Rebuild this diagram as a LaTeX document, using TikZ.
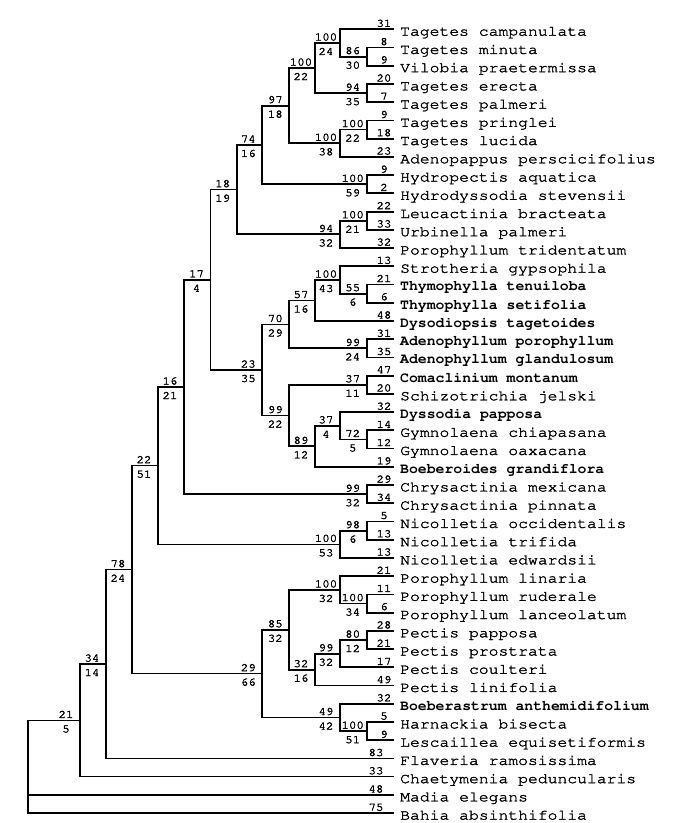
\documentclass[tikz,border=0pt]{standalone}
\usepackage[T1]{fontenc}
\usepackage{graphicx}
\newcommand\heavy[1]{\special{pdf:literal direct 2 Tr #1 w}}
\newcommand\unheavy{\special{pdf:literal direct 0 Tr}}
\newcommand\nums[1]{{\fontencoding{T1}\fontfamily{pcr}\fontseries{m}\fontshape{n}\fontsize{11.5}{11.5}\selectfont\heavy{0.3}\scalebox{1.08}[1]{#1}\unheavy}}
\newcommand\taxn[1]{{\fontencoding{T1}\fontfamily{pcr}\fontseries{m}\fontshape{n}\fontsize{14.5}{14.5}\selectfont\heavy{0.25}\scalebox{1.13}[1]{#1}\unheavy}}
\newcommand\taxb[1]{{\fontencoding{T1}\fontfamily{pcr}\fontseries{b}\fontshape{n}\fontsize{14.5}{14.5}\selectfont\scalebox{1.02}[1]{#1}}}
\tikzset{
  br/.style={line width=1.8pt, line cap=rect},
  brthin/.style={line width=1.5pt, line cap=rect},
  lbl/.style={inner sep=0pt, anchor=base},
  taxon/.style={inner sep=0pt, anchor=base west},
}
% leaf: name, y, number, text
\newcommand\leafn[4]{%
  \coordinate (#1) at (393,#2);
  \node[lbl] (#1n) at ([xshift=-9pt,yshift=2.5pt]#1) {\nums{#3}};
  \node[taxon] (#1t) at ([xshift=7pt,yshift=-6.4pt]#1) {\taxn{#4}};}
\newcommand\leafb[4]{%
  \coordinate (#1) at (393,#2);
  \node[lbl] (#1n) at ([xshift=-9pt,yshift=2.5pt]#1) {\nums{#3}};
  \node[taxon] (#1t) at ([xshift=7pt,yshift=-6.4pt]#1) {\taxb{#4}};}
\newcommand\leafo[4]{%
  \coordinate (#1) at (393,#2);
  \node[lbl] (#1n) at ([xshift=-17pt,yshift=2.5pt]#1) {\nums{#3}};
  \node[taxon] (#1t) at ([xshift=7pt,yshift=-6.4pt]#1) {\taxn{#4}};}
% internal: name, x, y, top, bottom
\newcommand\inode[5]{%
  \coordinate (#1) at (#2,#3);
  \node[lbl] (#1t) at ([xshift=-14pt,yshift=2.5pt]#1) {\nums{#4}};
  \node[lbl] (#1b) at ([xshift=-14pt,yshift=-12pt]#1) {\nums{#5}};}
\begin{document}
\begin{tikzpicture}[x=1pt,y=-1pt]
\useasboundingbox (0,0) rectangle (681,823);
% leaves
\leafn{l1}{29.3}{31}{Tagetes campanulata}
\leafn{l2}{47.53}{8}{Tagetes minuta}
\leafn{l3}{65.76}{9}{Vilobia praetermissa}
\leafn{l4}{83.99}{20}{Tagetes erecta}
\leafn{l5}{102.22}{7}{Tagetes palmeri}
\leafn{l6}{120.45}{9}{Tagetes pringlei}
\leafn{l7}{138.68}{18}{Tagetes lucida}
\leafn{l8}{156.91}{23}{Adenopappus perscicifolius}
\leafn{l9}{175.14}{9}{Hydropectis aquatica}
\leafn{l10}{193.37}{2}{Hydrodyssodia stevensii}
\leafn{l11}{211.6}{22}{Leucactinia bracteata}
\leafn{l12}{229.83}{33}{Urbinella palmeri}
\leafn{l13}{248.06}{32}{Porophyllum tridentatum}
\leafn{l14}{266.29}{13}{Strotheria gypsophila}
\leafb{l15}{284.52}{21}{Thymophylla tenuiloba}
\leafb{l16}{302.75}{6}{Thymophylla setifolia}
\leafb{l17}{320.98}{48}{Dysodiopsis tagetoides}
\leafb{l18}{339.21}{31}{Adenophyllum porophyllum}
\leafb{l19}{357.44}{35}{Adenophyllum glandulosum}
\leafb{l20}{375.67}{47}{Comaclinium montanum}
\leafn{l21}{393.9}{20}{Schizotrichia jelski}
\leafb{l22}{412.13}{32}{Dyssodia papposa}
\leafn{l23}{430.36}{14}{Gymnolaena chiapasana}
\leafn{l24}{448.59}{12}{Gymnolaena oaxacana}
\leafb{l25}{466.82}{19}{Boeberoides grandiflora}
\leafn{l26}{485.05}{29}{Chrysactinia mexicana}
\leafn{l27}{503.28}{34}{Chrysactinia pinnata}
\leafn{l28}{521.51}{5}{Nicolletia occidentalis}
\leafn{l29}{539.74}{13}{Nicolletia trifida}
\leafn{l30}{557.97}{13}{Nicolletia edwardsii}
\leafn{l31}{576.2}{21}{Porophyllum linaria}
\leafn{l32}{594.43}{11}{Porophyllum ruderale}
\leafn{l33}{612.66}{6}{Porophyllum lanceolatum}
\leafn{l34}{630.89}{28}{Pectis papposa}
\leafn{l35}{649.12}{21}{Pectis prostrata}
\leafn{l36}{667.35}{17}{Pectis coulteri}
\leafn{l37}{685.58}{49}{Pectis linifolia}
\leafb{l38}{703.81}{32}{Boeberastrum anthemidifolium}
\leafn{l39}{722.04}{5}{Harnackia bisecta}
\leafn{l40}{740.27}{9}{Lescaillea equisetiformis}
\leafo{l41}{758.5}{83}{Flaveria ramosissima}
\leafo{l42}{776.73}{33}{Chaetymenia peduncularis}
\leafo{l43}{794.96}{48}{Madia elegans}
\leafo{l44}{813.19}{75}{Bahia absinthifolia}
% internal nodes
\inode{n86}{366.7}{56.65}{86}{30}
\inode{n100a}{340}{42.98}{100}{24}
\inode{n94a}{366.7}{93.1}{94}{35}
\inode{n100b}{315}{68.04}{100}{22}
\inode{n100c}{366.7}{129.57}{100}{22}
\inode{n100d}{340}{143.24}{100}{38}
\inode{n97}{289.3}{105.64}{97}{18}
\inode{n100e}{366.7}{184.26}{100}{59}
\inode{n74}{262.3}{144.95}{74}{16}
\inode{n100f}{366.7}{220.72}{100}{21}
\inode{n94b}{340}{234.39}{94}{32}
\inode{n18}{236.7}{189.67}{18}{19}
\inode{n55}{366.7}{293.64}{55}{6}
\inode{n100g}{340}{279.97}{100}{43}
\inode{n57}{315}{300.48}{57}{16}
\inode{n99a}{366.7}{348.33}{99}{24}
\inode{n70}{289.3}{324.4}{70}{29}
\inode{n37a}{366.7}{384.79}{37}{11}
\inode{n72}{366.7}{439.48}{72}{5}
\inode{n37b}{340}{425.8}{37}{4}
\inode{n89}{315}{446.31}{89}{12}
\inode{n99b}{289.3}{415.55}{99}{22}
\inode{n23}{262.3}{369.98}{23}{35}
\inode{n17}{210.5}{279.82}{17}{4}
\inode{n99c}{366.7}{494.17}{99}{32}
\inode{n16}{184}{387.0}{16}{21}
\inode{n98}{366.7}{530.63}{98}{6}
\inode{n100h}{340}{544.3}{100}{53}
\inode{n22}{158}{465.65}{22}{51}
\inode{n100i}{366.7}{603.55}{100}{34}
\inode{n100j}{340}{589.88}{100}{32}
\inode{n80}{366.7}{640.0}{80}{12}
\inode{n99d}{340}{653.68}{99}{32}
\inode{n32}{315}{669.63}{32}{16}
\inode{n85}{289.3}{629.76}{85}{32}
\inode{n100k}{366.7}{731.16}{100}{51}
\inode{n49}{340}{717.49}{49}{42}
\inode{n29}{262.3}{673.63}{29}{66}
\inode{n78}{132}{569.64}{78}{24}
\inode{n34}{106}{664.07}{34}{14}
\inode{n21}{80}{720.4}{21}{5}
\coordinate (root) at (28,720.4);
% branches
\foreach \p/\c in {n86/l2, n86/l3, n100a/l1, n100a/n86, n94a/l4, n94a/l5,
  n100b/n100a, n100b/n94a, n100c/l6, n100c/l7, n100d/n100c, n100d/l8,
  n97/n100b, n97/n100d, n100e/l9, n100e/l10, n74/n97, n74/n100e,
  n100f/l11, n100f/l12, n94b/n100f, n94b/l13, n18/n74, n18/n94b,
  n55/l15, n55/l16, n100g/l14, n100g/n55, n57/n100g, n57/l17,
  n99a/l18, n99a/l19, n70/n57, n70/n99a, n37a/l20, n37a/l21,
  n72/l23, n72/l24, n37b/l22, n37b/n72, n89/n37b, n89/l25,
  n99b/n37a, n99b/n89, n23/n70, n23/n99b, n99c/l26, n99c/l27,
  n98/l28, n98/l29, n100h/n98, n100h/l30, n100i/l32, n100i/l33,
  n100j/l31, n100j/n100i, n80/l34, n80/l35, n99d/n80, n99d/l36,
  n32/n99d, n32/l37, n85/n100j, n85/n32, n100k/l39, n100k/l40,
  n49/l38, n49/n100k, n29/n85, n29/n49}
  \draw[br] (\p) |- (\c);
\foreach \p/\c in {n17/n18, n17/n23, n16/n17, n16/n99c, n22/n16, n22/n100h,
  n78/n22, n78/n29, n34/n78, n34/l41, n21/n34, n21/l42,
  root/n21, root/l43, root/l44}
  \draw[brthin] (\p) |- (\c);
\end{tikzpicture}
\end{document}
